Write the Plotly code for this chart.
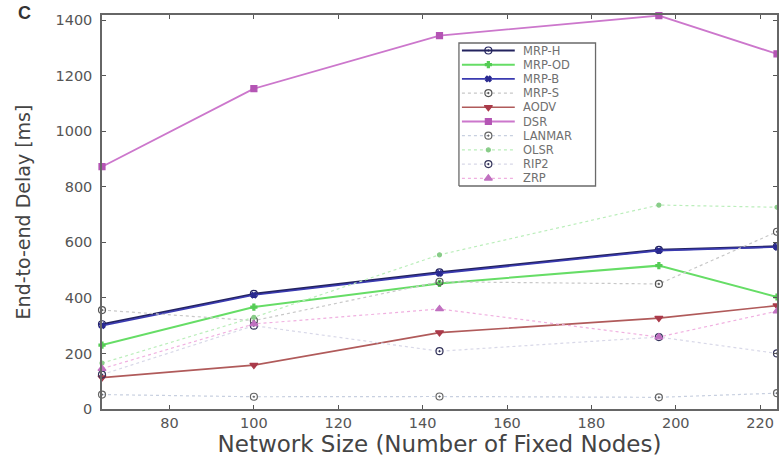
import plotly.graph_objects as go

# Network sizes (number of fixed nodes)
nodes = [64, 100, 144, 196, 224]

# End-to-end delay [ms] per routing protocol
mrp_h = [305, 414, 492, 573, 585]
mrp_od = [230, 367, 452, 516, 403]
mrp_b = [300, 410, 488, 570, 583]
mrp_s = [356, 318, 458, 450, 638]
aodv = [113, 158, 275, 327, 372]
dsr = [872, 1153, 1344, 1416, 1278]
lanmar = [52, 44, 45, 42, 57]
olsr = [165, 330, 555, 734, 726]
rip2 = [124, 300, 208, 259, 200]
zrp = [145, 306, 360, 259, 352]

protocols = ["MRP-H", "MRP-OD", "MRP-B", "MRP-S", "AODV",
             "DSR", "LANMAR", "OLSR", "RIP2", "ZRP"]
values = [mrp_h, mrp_od, mrp_b, mrp_s, aodv, dsr, lanmar, olsr, rip2, zrp]

# line colour, dash, marker symbol, line width, marker size, marker colour
styles = {
    "MRP-H": ("#23235e", "solid", "circle-open-dot", 2.2, 7, "#23235e"),
    "MRP-OD": ("#66dd66", "solid", "cross", 2.0, 5, "#55cc55"),
    "MRP-B": ("#3a3ab0", "solid", "x", 1.6, 5, "#2a2a90"),
    "MRP-S": ("#c8c8c8", "dot", "circle-open-dot", 1.2, 7, "#555555"),
    "AODV": ("#b05a5a", "solid", "triangle-down", 1.6, 7, "#aa3a4a"),
    "DSR": ("#cc77cc", "solid", "square", 1.8, 6, "#b455b4"),
    "LANMAR": ("#c8d0e0", "dot", "circle-open-dot", 1.2, 7, "#666666"),
    "OLSR": ("#bbeebb", "dot", "circle", 1.2, 4, "#88cc88"),
    "RIP2": ("#d8d8e8", "dot", "circle-open-dot", 1.2, 7, "#33335a"),
    "ZRP": ("#f0b0e0", "dot", "triangle-up", 1.2, 7, "#c070c0"),
}

FONT = "DejaVu Sans, Verdana, sans-serif"

fig = go.Figure()
for name, vals in zip(protocols, values):
    color, dash, symbol, width, size, mcolor = styles[name]
    fig.add_trace(go.Scatter(
        x=nodes, y=vals, name=name, mode="lines+markers", showlegend=False,
        line=dict(color=color, width=width, dash=dash),
        marker=dict(symbol=symbol, size=size, color=mcolor,
                    line=dict(width=1.2, color=mcolor)),
        cliponaxis=False,
    ))

# Compact boxed legend drawn on an overlay axis measured in pixels
# (origin at the lower-left corner of the plotting area).
PLOT_W, PLOT_H = 677, 394
box_x0, box_x1 = 358, 495
box_y0, box_y1 = 223, 366
fig.add_trace(go.Scatter(
    x=[box_x0, box_x1, box_x1, box_x0, box_x0],
    y=[box_y0, box_y0, box_y1, box_y1, box_y0],
    mode="lines", fill="toself", fillcolor="white",
    line=dict(color="#6a6a6a", width=1.3),
    xaxis="x2", yaxis="y2", showlegend=False, hoverinfo="skip",
))
row_top, row_step = 358.5, 14.2
for i, name in enumerate(protocols):
    color, dash, symbol, width, size, mcolor = styles[name]
    ry = row_top - i * row_step
    fig.add_trace(go.Scatter(
        x=[361, 414], y=[ry, ry], mode="lines",
        line=dict(color=color, width=width, dash=dash),
        xaxis="x2", yaxis="y2", showlegend=False, hoverinfo="skip",
    ))
    fig.add_trace(go.Scatter(
        x=[387.5], y=[ry], mode="markers",
        marker=dict(symbol=symbol, size=size, color=mcolor,
                    line=dict(width=1.2, color=mcolor)),
        xaxis="x2", yaxis="y2", showlegend=False, hoverinfo="skip",
    ))
    fig.add_annotation(
        x=420, y=ry, xref="x2", yref="y2", text=name, showarrow=False,
        xanchor="left", yanchor="middle",
        font=dict(family=FONT, size=11.5, color="#707070"),
    )

tick_font = dict(family=FONT, size=14.5, color="#555555")

fig.update_layout(
    width=779, height=461,
    margin=dict(l=102, r=0, t=15, b=52),
    paper_bgcolor="white", plot_bgcolor="white",
    font=dict(family=FONT, color="#555555"),
    showlegend=False,
    xaxis=dict(
        range=[64, 224], tickvals=[80, 100, 120, 140, 160, 180, 200, 220],
        ticks="inside", ticklen=4, tickcolor="#555555",
        showline=True, linecolor="#666666", linewidth=1.5, mirror="ticks",
        showgrid=False, zeroline=False, tickfont=tick_font,
        title=dict(text="Network Size (Number of Fixed Nodes)",
                   font=dict(family=FONT, size=23, color="#444444"), standoff=2),
    ),
    yaxis=dict(
        range=[0, 1418], tickvals=[0, 200, 400, 600, 800, 1000, 1200, 1400],
        ticks="inside", ticklen=4, tickcolor="#555555", ticklabelstandoff=5,
        showline=True, linecolor="#666666", linewidth=1.5, mirror="ticks",
        showgrid=False, zeroline=False, tickfont=tick_font,
        title=dict(text="End-to-end Delay [ms]",
                   font=dict(family=FONT, size=19, color="#444444"), standoff=20),
    ),
    xaxis2=dict(overlaying="x", anchor="y2", range=[0, PLOT_W], visible=False,
                fixedrange=True),
    yaxis2=dict(overlaying="y", anchor="x2", range=[0, PLOT_H], visible=False,
                fixedrange=True),
)

fig.add_annotation(
    text="<b>C</b>", x=-0.128, y=1.005, xref="paper", yref="paper",
    xanchor="left", yanchor="middle", showarrow=False,
    font=dict(family="Liberation Sans, Arial, sans-serif", size=18, color="#333333"),
)

fig.write_html("out.html")
